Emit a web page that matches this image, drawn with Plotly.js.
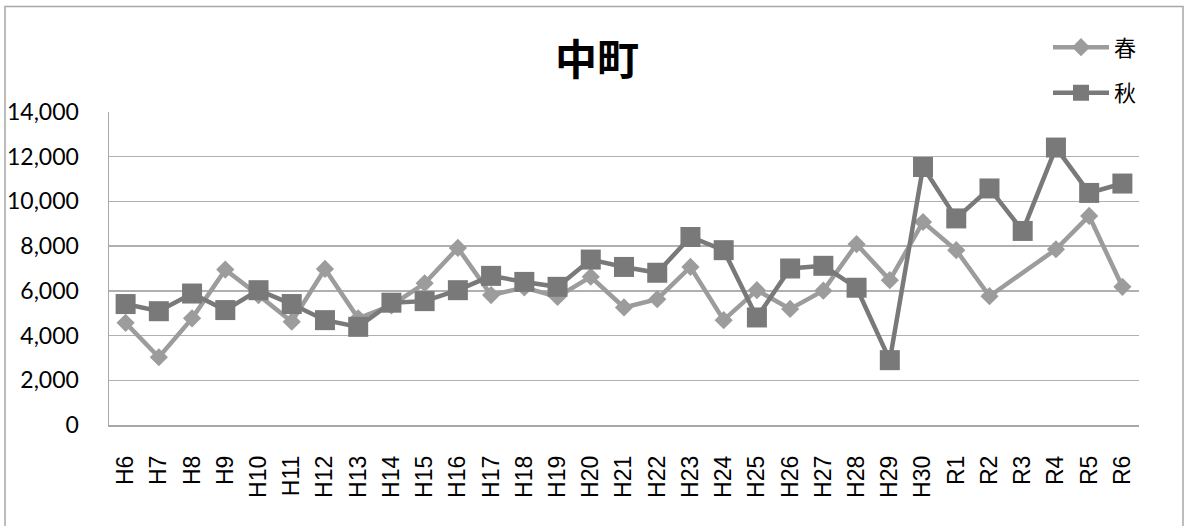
<!DOCTYPE html>
<html>
<head>
<meta charset="utf-8">
<script src="https://cdn.plot.ly/plotly-3.0.1.min.js"></script>
<style>
html,body{margin:0;padding:0;background:#fff;}
#chart{width:1186px;height:526px;}
</style>
</head>
<body>
<div id="chart"></div>
<script>
const categories = ['H6','H7','H8','H9','H10','H11','H12','H13','H14','H15','H16','H17','H18','H19','H20','H21','H22','H23','H24','H25','H26','H27','H28','H29','H30','R1','R2','R3','R4','R5','R6'];
const spring = [4570,3030,4770,6950,5810,4620,6980,4770,5350,6340,7920,5810,6150,5730,6630,5260,5630,7070,4690,6030,5190,6010,8090,6480,9080,7820,5760,null,7860,9350,6180];
const autumn = [5410,5090,5880,5140,6030,5410,4690,4390,5470,5540,6030,6670,6400,6180,7400,7070,6810,8410,7820,4810,7000,7120,6140,2900,11540,9240,10580,8680,12410,10380,10800];
const seriesNames = ['春','秋'];
const chartTitle = '中町';

const springColor = '#9c9c9c';
const autumnColor = '#797979';

const traces = [
  {
    x: categories, y: spring, name: seriesNames[0], type: 'scatter', mode: 'lines+markers',
    connectgaps: true, legendgroup: 'a', cliponaxis: false,
    line: {color: springColor, width: 4.5},
    marker: {symbol: 'diamond', size: 14, color: springColor}
  },
  {
    x: categories, y: autumn, name: seriesNames[1], type: 'scatter', mode: 'lines+markers',
    connectgaps: true, legendgroup: 'b', cliponaxis: false,
    line: {color: autumnColor, width: 4.5},
    marker: {symbol: 'square', size: 20, color: autumnColor}
  }
];

const L = 109, R = 1139, T = 111.7, B = 425, W = 1186, H = 526;
const pw = R - L, ph = B - T;

const layout = {
  width: W, height: H,
  margin: {l: L, r: W - R, t: T, b: H - B, pad: 0},
  paper_bgcolor: '#ffffff', plot_bgcolor: '#ffffff',
  showlegend: true,
  title: {
    text: '<b>' + chartTitle + '</b>',
    font: {family: 'Noto Sans CJK JP', size: 42, color: '#000'},
    x: 597 / W, xref: 'container', xanchor: 'center',
    y: 1 - 60 / H, yref: 'container', yanchor: 'middle'
  },
  legend: {
    x: (1048 - L) / pw, y: (B - 26) / ph,
    xref: 'paper', yref: 'paper', xanchor: 'left', yanchor: 'top',
    font: {family: 'Noto Sans CJK JP', size: 22, color: '#000'},
    bgcolor: 'rgba(0,0,0,0)',
    traceorder: 'grouped', tracegroupgap: 14,
    itemwidth: 56
  },
  xaxis: {
    type: 'category',
    range: [-0.5, categories.length - 0.5], autorange: false,
    showgrid: false, zeroline: false,
    showline: true, linecolor: '#a8a8a8', linewidth: 1.5,
    ticks: '', tickangle: -90,
    ticklabelstandoff: 20,
    tickfont: {family: 'Liberation Sans', size: 23, color: '#000'},
    fixedrange: true
  },
  yaxis: {
    range: [0, 14000], autorange: false, dtick: 2000, tickformat: ',d',
    showgrid: true, gridcolor: '#b0b0b0', gridwidth: 1.5,
    zeroline: false,
    showline: true, linecolor: '#a8a8a8', linewidth: 1.5,
    ticks: '', ticklabelstandoff: 24,
    tickfont: {family: 'Lato', size: 23, color: '#000'},
    fixedrange: true
  },
  shapes: [{
    type: 'rect', xref: 'paper', yref: 'paper',
    x0: (5 - L) / pw, x1: (1183 - L) / pw,
    y0: (B - 540) / ph, y1: (B - 6) / ph,
    line: {color: '#a8a8a8', width: 1.5}, fillcolor: 'rgba(0,0,0,0)', layer: 'below'
  }]
};

Plotly.newPlot('chart', traces, layout, {displayModeBar: false, staticPlot: true});
</script>
</body>
</html>
